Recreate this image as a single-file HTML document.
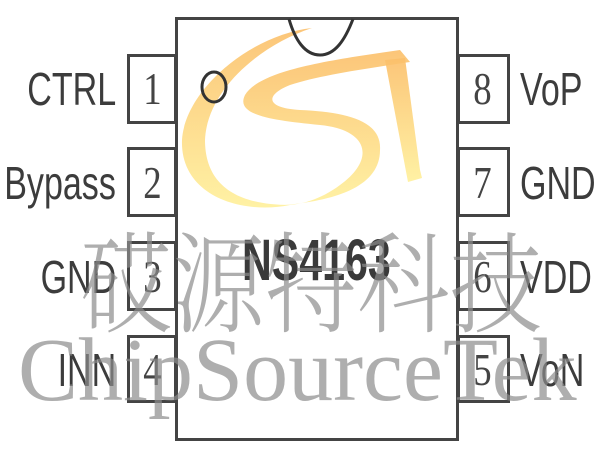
<!DOCTYPE html>
<html><head><meta charset="utf-8"><style>
html,body{margin:0;padding:0;background:#fff;}
#c{position:relative;width:600px;height:450px;overflow:hidden;background:#fff;}
.box{position:absolute;border:3px solid #444;box-sizing:border-box;background:transparent;}
.lbl{position:absolute;font-family:"Liberation Sans",sans-serif;font-size:46px;color:#3c3c3c;line-height:1;white-space:nowrap;transform:scaleX(0.74);}
.lr{transform-origin:right center;text-align:right;}
.ll{transform-origin:left center;}
.num{position:absolute;font-family:"Liberation Serif",serif;font-size:46px;color:#444;line-height:1;transform:scaleX(0.8);width:47px;text-align:center;}
.wm{position:absolute;color:rgba(140,140,140,0.7);line-height:1;white-space:nowrap;}
</style></head><body><div id="c">
<svg width="600" height="450" style="position:absolute;left:0;top:0">
<defs><linearGradient id="g" x1="0" y1="0" x2="0" y2="1">
<stop offset="0" stop-color="#fbbf6a"/><stop offset="1" stop-color="#fff09a"/></linearGradient></defs>
<path d="M312,28 C250,35 185,90 182,140 C180,195 240,215 290,205 C230,205 205,180 205,140 C207,90 260,45 312,28 Z" fill="url(#g)" opacity="0.9"/>
<path d="M400,50 C330,60 260,70 245,95 C235,115 270,120 320,125 C370,130 375,160 340,185 C320,200 300,205 285,205 C340,200 380,185 380,150 C382,120 345,112 300,110 C265,108 265,95 290,85 C320,75 370,68 410,62 Z" fill="url(#g)" opacity="0.9"/>
<path d="M385,60 L405,58 L420,170 L422,178 L408,182 Z" fill="url(#g)" opacity="0.9"/>
</svg>
<div class="box" style="left:175px;top:17px;width:284px;height:424px;"></div>
<svg width="600" height="450" style="position:absolute;left:0;top:0">
<path d="M289,19 C295,40 305,55 320,55 C335,55 345,40 353,19" fill="none" stroke="#333" stroke-width="3"/>
<ellipse cx="214" cy="87" rx="12" ry="15" fill="none" stroke="#333" stroke-width="3"/>
</svg>
<div class="box" style="left:127px;top:54px;width:50px;height:70px;"></div>
<div class="box" style="left:127px;top:147px;width:50px;height:70px;"></div>
<div class="box" style="left:127px;top:241px;width:50px;height:70px;"></div>
<div class="box" style="left:127px;top:335px;width:50px;height:68px;"></div>
<div class="box" style="left:457px;top:54px;width:53px;height:70px;"></div>
<div class="box" style="left:457px;top:147px;width:53px;height:70px;"></div>
<div class="box" style="left:457px;top:241px;width:53px;height:70px;"></div>
<div class="box" style="left:457px;top:335px;width:53px;height:68px;"></div>
<div class="num" style="left:129px;top:66px;">1</div>
<div class="num" style="left:129px;top:160px;">2</div>
<div class="num" style="left:129px;top:254px;">3</div>
<div class="num" style="left:129px;top:347px;">4</div>
<div class="num" style="left:459px;top:66px;">8</div>
<div class="num" style="left:459px;top:160px;">7</div>
<div class="num" style="left:459px;top:254px;">6</div>
<div class="num" style="left:459px;top:347px;">5</div>
<div class="lbl lr" style="right:484px;top:66px;">CTRL</div>
<div class="lbl lr" style="right:484px;top:160px;">Bypass</div>
<div class="lbl lr" style="right:484px;top:254px;">GND</div>
<div class="lbl lr" style="right:484px;top:347px;">INN</div>
<div class="lbl ll" style="left:520px;top:66px;">VoP</div>
<div class="lbl ll" style="left:520px;top:160px;">GND</div>
<div class="lbl ll" style="left:520px;top:254px;">VDD</div>
<div class="lbl ll" style="left:520px;top:347px;">VoN</div>
<div style="position:absolute;left:242px;top:232px;font-family:'Liberation Sans',sans-serif;font-weight:bold;font-size:58px;color:#3a3a3a;line-height:1;transform:scaleX(0.71);transform-origin:left center;">NS4163</div>
<div class="wm" style="left:80px;top:222px;font-family:'Noto Serif CJK SC','Noto Sans CJK SC',serif;font-size:110px;font-weight:300;transform:scaleX(0.84);transform-origin:left top;">砹源特科技</div>
<div class="wm" style="left:18px;top:326px;font-family:'Liberation Serif',serif;font-size:90px;transform:scaleX(1.0);transform-origin:left center;">ChipSourceTek</div>
</div></body></html>
